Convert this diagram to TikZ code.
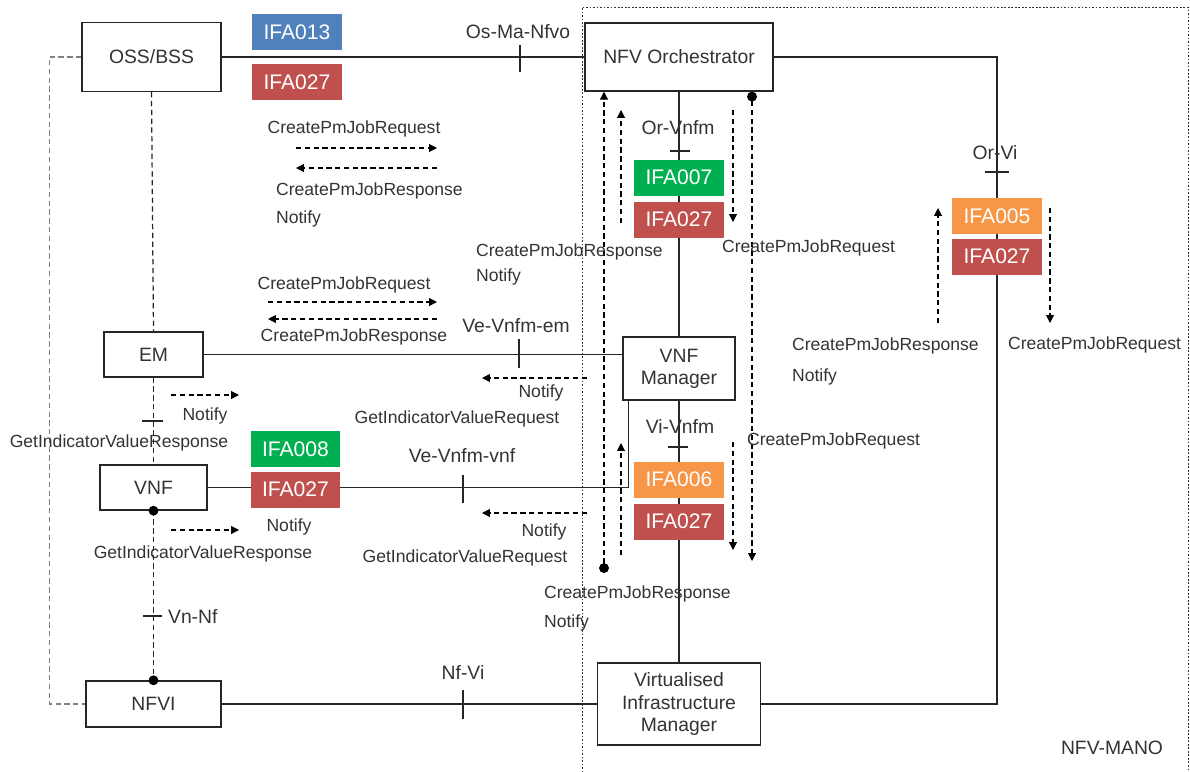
\documentclass[tikz,border=0pt]{standalone}
\usepackage{fontspec}
\setmainfont{Liberation Sans}
\usetikzlibrary{arrows.meta,positioning,calc}
\definecolor{ifablue}{HTML}{4F81BD}
\definecolor{ifared}{HTML}{C0504D}
\definecolor{ifagreen}{HTML}{00B050}
\definecolor{ifaorange}{HTML}{F79646}

\begin{document}
\begin{tikzpicture}[x=0.02cm,y=-0.02cm,font=\fontsize{10}{12}\selectfont,text=black!80,
 box/.style={draw=black!85,line width=.8pt,fill=white,align=center,inner sep=0pt,
  font=\fontsize{11}{12.5}\selectfont},
 tag/.style={fill=#1,text=white,minimum width=1.8cm,minimum height=.72cm,inner sep=0pt,
  font=\fontsize{12}{14}\selectfont},
 link/.style={black!85,line width=.7pt},
 ref/.style={black!85,line width=.7pt,dash pattern=on 3pt off 2pt},
 msg/.style={black,line width=.6pt,dash pattern=on 3pt off 2pt,-{Triangle[length=4.5pt,width=4.5pt]}},
 ifc/.style={font=\fontsize{11}{13}\selectfont,inner sep=1pt},
 lab/.style={inner sep=1pt}]
\useasboundingbox (0,0) rectangle (1190,771);
\draw[black!80,line width=.5pt,dash pattern=on 1pt off 1pt] (582,790) -- (582,7) -- (1188,7) -- (1188,790);
\node[box,minimum width=2.78cm,minimum height=1.38cm] (oss) at (151.5,57) {OSS/BSS};
\node[box,minimum width=3.76cm,minimum height=1.36cm] (nfvo) at (679,57) {NFV Orchestrator};
\node[box,minimum width=1.98cm,minimum height=.9cm] (em) at (153.5,354.5) {EM};
\node[box,minimum width=2.14cm,minimum height=.9cm] (vnf) at (153.5,487.5) {VNF};
\node[box,minimum width=2.24cm,minimum height=1.26cm] (vnfm) at (679,368.5) {VNF\\Manager};
\node[box,minimum width=2.7cm,minimum height=.92cm] (nfvi) at (153.5,704) {NFVI};
\node[box,minimum width=3.26cm,minimum height=1.64cm,font=\fontsize{11}{13}\selectfont] (vim) at (679,704) {Virtualised\\Infrastructure\\Manager};
\coordinate (orvi) at (997,172);
\draw[link] (oss.east) -- (nfvo.west);
\draw[link] (nfvo.east) -| (orvi) |- (vim.east);
\draw[link] (nfvo.south) -- (vnfm.north);
\draw[link] (vnfm.south) -- (vim.north);
\draw[link] (em.east) -- (em.east -| vnfm.west);
\draw[link] (vnf.east) -| ([xshift=.12cm]vnfm.south west);
\draw[link] (nfvi.east) -- (vim.west);
\draw[ref] (oss.south) -- (em.north);
\draw[ref] (em.south) -- (vnf.north);
\draw[ref] (vnf.south) -- (nfvi.north);
\fill (vnf.south) circle (2.8pt);
\fill (nfvi.north) circle (2.8pt);
\draw[ref,black!50] (oss.west) -- ++(-32,0) |- (nfvi.west);
\foreach \xa/\ya/\xb/\yb in {520/45/520/72,670/151/690/151,985/172/1009/172,519/339/519/368,
 668/447/688/447,463/475/463/503,142/421/163/421,143/616/162/616,463/690/463/719}
 \draw[link] (\xa,\ya) -- (\xb,\yb);
\node[tag=ifablue] (ifa013) at (297,32) {IFA013};
\node[tag=ifared] (ifa027o) at (297,82) {IFA027};
\node[tag=ifagreen] (ifa007) at (679,177.5) {IFA007};
\node[tag=ifared] (ifa027v) at (679,219.5) {IFA027};
\node[tag=ifaorange] (ifa005) at (997,216) {IFA005};
\node[tag=ifared] (ifa027r) at (997,256.5) {IFA027};
\node[tag=ifagreen] (ifa008) at (295.5,449) {IFA008};
\node[tag=ifared] (ifa027n) at (295.5,489.5) {IFA027};
\node[tag=ifaorange] (ifa006) at (679,479.5) {IFA006};
\node[tag=ifared] (ifa027i) at (679,521.5) {IFA027};
\foreach \xa/\ya/\xb/\yb [count=\i] in {296/148/437/148,437/168/296/168,268/302/437/302,
 437/319/268/319,171/395/239/395,587/378/482/378,587/513/482/513,171/530/239/530,
 621/223/621/110,733/110/733/222,621/555/621/443,733/442/733/550,938/323/938/208,1050/208/1050/323} {
 \coordinate (ms\i) at (\xa,\ya);
 \coordinate (me\i) at (\xb,\yb);
 \draw[msg] (ms\i) -- (me\i);}
\coordinate (dotA) at (604,573);
\coordinate (dotB) at (752,561);
\draw[msg,{Circle[length=5.6pt]}-{Triangle[length=4.5pt,width=4.5pt]}] (dotA) -- (dotA |- nfvo.south);
\draw[msg,{Circle[length=5.6pt]}-{Triangle[length=4.5pt,width=4.5pt]}] (dotB |- nfvo.south) -- (dotB);
\foreach \x/\y/\t [count=\i] in {518/32/Os-Ma-Nfvo,678/128/Or-Vnfm,995/153/Or-Vi,516/326/Ve-Vnfm-em,
 680/426/Vi-Vnfm,462/456/Ve-Vnfm-vnf,463/672/Nf-Vi}
 \node[ifc] (if\i) at (\x,\y) {\t};
\node[ifc,anchor=west] (if8) at (166,616) {Vn-Nf};
\foreach \x/\y/\t [count=\i] in {354/129/CreatePmJobRequest,344/285/CreatePmJobRequest,
 354/337/CreatePmJobResponse,205/416/Notify,119/443/GetIndicatorValueResponse,541/393/Notify,
 457/419/GetIndicatorValueRequest,289/527/Notify,203/554/GetIndicatorValueResponse,544/532/Notify,
 465/558/GetIndicatorValueRequest}
 \node[lab] (lc\i) at (\x,\y) {\t};
\foreach \x/\y/\t [count=\i] in {274/191/CreatePmJobResponse,274/219/Notify,474/252/CreatePmJobResponse,
 474/277/Notify,720/248/CreatePmJobRequest,790/346/CreatePmJobResponse,790/377/Notify,
 1006/345/CreatePmJobRequest,745/441/CreatePmJobRequest,542/594/CreatePmJobResponse,542/623/Notify}
 \node[lab,anchor=west] (lw\i) at (\x,\y) {\t};
\node[ifc] (mano) at (1112,748) {NFV-MANO};
\end{tikzpicture}
\end{document}
